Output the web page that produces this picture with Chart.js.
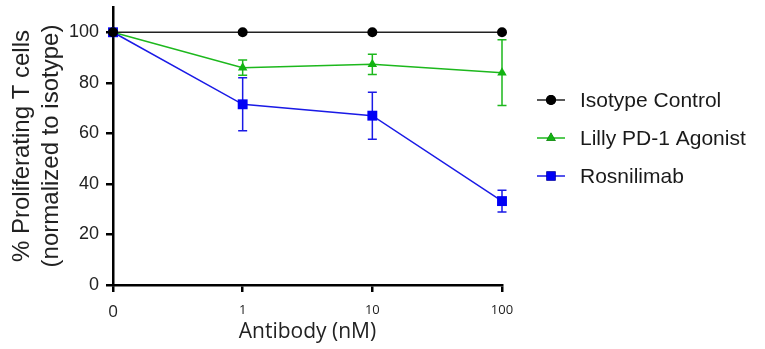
<!DOCTYPE html>
<html>
<head>
<meta charset="utf-8">
<script src="https://cdn.jsdelivr.net/npm/chart.js@4.4.1/dist/chart.umd.min.js"></script>
<style>
  html, body { margin: 0; padding: 0; background: #fff; }
  #wrap { width: 765px; height: 349px; position: relative; }
</style>
</head>
<body>
<div id="wrap"><canvas id="chart"></canvas></div>
<script>
// doses (nM), shown as evenly spaced categories
var doses = ["0", "1", "10", "100"];

var isotype     = [100, 100, 100, 100];
var isotypeErr  = [0, 0, 0, 0];
var lilly       = [100, 86, 87.3, 84];
var lillyErr    = [0, 3, 4, 13];
var rosni       = [100, 71.5, 67, 33.2];
var rosniErr    = [0, 10.5, 9.3, 4.3];

var yTicks = [0, 20, 40, 60, 80, 100];

var BLACK = "#000000";
var GREEN = "#1db81d";
var BLUE  = "#0000f5";

// error bars: mean +/- err, caps on both ends
var errorBars = {
	id: "errorBars",
	beforeDatasetsDraw: function(chart) 
	{
		var ctx = chart.ctx;
		var xs = chart.scales.x, ys = chart.scales.y;
		chart.data.datasets.forEach(function(ds) 
		{
			ctx.save();
			ctx.strokeStyle = ds.borderColor;
			ctx.lineWidth = 1.5;
			ds.data.forEach(function(v, i) 
			{
				var e = ds.errors[i];
				if (!e) return;
				var x = xs.getPixelForValue(i);
				var top = ys.getPixelForValue(v + e);
				var bot = ys.getPixelForValue(v - e);
				ctx.beginPath();
				ctx.moveTo(x, top); ctx.lineTo(x, bot);
				ctx.moveTo(x - 4.5, top); ctx.lineTo(x + 4.5, top);
				ctx.moveTo(x - 4.5, bot); ctx.lineTo(x + 4.5, bot);
				ctx.stroke();
			});
			ctx.restore();
		});
	}
};

// legend on the right: short line with marker in the middle
var sideLegend = {
	id: "sideLegend",
	afterDraw: function(chart) 
	{
		var ctx = chart.ctx;
		var rows = [100, 138, 176];
		chart.data.datasets.forEach(function(ds, i) 
		{
			var y = rows[i];
			ctx.save();
			ctx.strokeStyle = ds.borderColor;
			ctx.lineWidth = 1.5;
			ctx.beginPath();
			ctx.moveTo(537, y); ctx.lineTo(565, y);
			ctx.stroke();
			Chart.helpers.drawPoint(ctx, {
				pointStyle: ds.pointStyle,
				radius: ds.legendRadius,
				borderWidth: 0
			}, 551, y);
			ctx.fillStyle = ds.backgroundColor;
			ctx.fill();
			ctx.fillStyle = "#1a1a1a";
			ctx.font = "21px 'Liberation Sans', Arial, sans-serif";
			ctx.textBaseline = "middle";
			ctx.fillText(ds.label, 580, y + 1);
			ctx.restore();
		});
	}
};

new Chart(document.getElementById("chart"), 
{
	type: "line",
	data: 
	{
		labels: doses,
		datasets: 
		[{
			label: "Isotype Control",
			data: isotype,
			errors: isotypeErr,
			borderColor: "#222",
			backgroundColor: BLACK,
			borderWidth: 1.5,
			pointStyle: "circle",
			pointRadius: 5,
			legendRadius: 5,
			pointBorderWidth: 0,
			order: 0,
			clip: false
		},
		{
			label: "Lilly PD-1 Agonist",
			data: lilly,
			errors: lillyErr,
			borderColor: GREEN,
			backgroundColor: "#12b312",
			borderWidth: 1.5,
			pointStyle: "triangle",
			pointRadius: 5.5,
			legendRadius: 5.5,
			pointBorderWidth: 0,
			order: 2,
			clip: false
		},
		{
			label: "Rosnilimab",
			data: rosni,
			errors: rosniErr,
			borderColor: "#1a1ae6",
			backgroundColor: BLUE,
			borderWidth: 1.5,
			pointStyle: "rect",
			pointRadius: 7,
			legendRadius: 6.5,
			pointBorderWidth: 0,
			order: 1,
			clip: false
		}]
	},
	options: 
	{
		responsive: true,
		maintainAspectRatio: false,
		animation: false,
		layout: { padding: { left: 0, right: 263, top: 7, bottom: 0 } },
		plugins: 
		{
			legend: { display: false },
			tooltip: { enabled: false }
		},
		scales: 
		{
			x: 
			{
				type: "category",
				offset: false,
				afterFit: function(s) { s.height = 64; s.paddingLeft = 0; s.paddingRight = 0; },
				border: { color: "#000", width: 2.5 },
				grid: { display: true, drawOnChartArea: false, color: "#000", lineWidth: 2.5, tickLength: 7 },
				ticks: 
				{
					color: "#222",
					padding: 10,
					maxRotation: 0,
					font: function(c) 
					{
						return c.index === 0 ? { family: "'Open Sans', sans-serif", size: 17 } 
						                     : { family: "'Open Sans', sans-serif", size: 13 };
					}
				},
				title: 
				{
					display: true,
					text: "Antibody (nM)",
					color: "#222",
					font: { family: "'Open Sans', sans-serif", size: 21 },
					padding: { top: 0, bottom: 4 }
				}
			},
			y: 
			{
				min: 0,
				max: 110,
				afterFit: function(s) { s.width = 113; s.paddingTop = 0; s.paddingBottom = 0; },
				afterBuildTicks: function(s) { s.ticks = yTicks.map(function(v) { return { value: v }; }); },
				border: { color: "#000", width: 2.5 },
				grid: { display: true, drawOnChartArea: false, color: "#000", lineWidth: 2.5, tickLength: 7 },
				ticks: 
				{
					color: "#222",
					padding: 7,
					font: { family: "'Liberation Sans', Arial, sans-serif", size: 18 }
				},
				title: 
				{
					display: true,
					text: ["% Proliferating T cells", "(normalized to isotype)"],
					color: "#222",
					font: { family: "'Liberation Sans', Arial, sans-serif", size: 24 },
					padding: { top: 8, bottom: 0 }
				}
			}
		}
	},
	plugins: [errorBars, sideLegend]
});
</script>
</body>
</html>
